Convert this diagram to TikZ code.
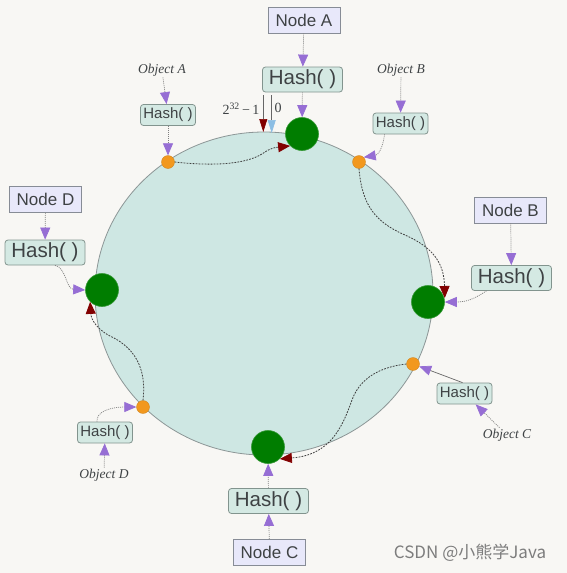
\documentclass[tikz,border=0pt]{standalone}
\usepackage{fontspec}
\setmainfont{Liberation Sans}
\newfontfamily\serifA{Liberation Serif}
\newfontfamily\cjk{Noto Sans CJK SC}
\usetikzlibrary{arrows.meta}
\definecolor{bg}{RGB}{248,247,244}
\definecolor{ringfill}{RGB}{206,231,227}
\definecolor{ringline}{RGB}{140,150,150}
\definecolor{lav}{RGB}{232,232,250}
\definecolor{hashfill}{RGB}{212,233,227}
\definecolor{boxline}{RGB}{135,140,150}
\definecolor{hashline}{RGB}{130,148,142}
\definecolor{txt}{RGB}{62,66,68}
\definecolor{pur}{RGB}{150,110,212}
\definecolor{gn}{RGB}{0,125,0}
\definecolor{gnedge}{RGB}{50,150,50}
\definecolor{org}{RGB}{242,152,30}
\definecolor{dred}{RGB}{130,0,0}
\definecolor{lblue}{RGB}{140,190,228}
\definecolor{wmgray}{RGB}{125,125,125}
\begin{document}
\begin{tikzpicture}[x=1pt,y=-1pt,
  nodebox/.style={draw=boxline,fill=lav,line width=0.8pt,minimum width=72pt,minimum height=26pt,inner sep=0pt,text=txt,font=\fontsize{17}{20}\selectfont},
  hashbig/.style={draw=hashline,fill=hashfill,rounded corners=3pt,line width=0.8pt,minimum width=80pt,minimum height=25pt,inner sep=0pt,text=txt,font=\fontsize{20.5}{24}\selectfont},
  hashsmall/.style={draw=hashline,fill=hashfill,rounded corners=3pt,line width=0.8pt,minimum width=55pt,minimum height=21pt,inner sep=0pt,text=txt,font=\fontsize{15}{18}\selectfont},
  objlbl/.style={text=txt,inner sep=1pt,font=\serifA\itshape\fontsize{13.5}{16}\selectfont},
  gnode/.style={circle,fill=gn,draw=gnedge,line width=0.6pt,minimum size=33pt,inner sep=0pt},
  odot/.style={circle,fill=org,draw=org!85!black,line width=0.3pt,minimum size=13pt,inner sep=0pt},
  parrow/.style={draw=gray,line width=0.7pt,dash pattern=on 1pt off 1pt,-{Triangle[length=12pt,width=10pt,color=pur]}},
  rarrow/.style={draw=black!75,line width=0.8pt,dash pattern=on 1.8pt off 1.2pt,-{Triangle[length=12pt,width=10pt,color=dred]}},
  wm/.style={text=wmgray,inner sep=0pt,font=\cjk\fontsize{17}{20}\selectfont}
]
\useasboundingbox (0,0) rectangle (567,573);
\fill[bg] (0,0) rectangle (567,573);
\draw[ringline,fill=ringfill,line width=0.8pt] (264,293.5) ellipse [x radius=169, y radius=161.5];

% markers 2^32-1 and 0
\coordinate (z1a) at (263.3,95);
\coordinate (z1b) at (263.3,132);
\coordinate (z2a) at (271.7,95);
\coordinate (z2b) at (271.7,133);
\draw[gray!80!black,line width=0.7pt,-{Triangle[length=13pt,width=8pt,color=dred]}] (z1a) -- (z1b);
\draw[gray!80!black,line width=0.7pt,-{Triangle[length=13pt,width=8pt,color=lblue]}] (z2a) -- (z2b);
\node[text=txt,inner sep=0pt,font=\serifA\fontsize{14}{16}\selectfont] (l1) at (241,109) {2\textsuperscript{32}\,−\,1};
\node[text=txt,inner sep=0pt,font=\serifA\fontsize{14}{16}\selectfont] (l0) at (278,108) {0};

% nodes
\node[nodebox] (nA) at (304,20) {Node A};
\node[hashbig] (hA) at (302.5,79.5) {Hash( )};
\node[gnode] (gA) at (302,134) {};
\node[objlbl] (obA) at (162,70) {Object A};
\node[hashsmall] (hsA) at (168,115) {Hash( )};
\node[odot] (oA) at (168,162) {};
\node[objlbl] (obB) at (401,70) {Object B};
\node[hashsmall] (hsB) at (400.5,123.5) {Hash( )};
\node[odot] (oB) at (359,162) {};
\node[nodebox] (nD) at (45.5,199.5) {Node D};
\node[hashbig] (hD) at (45,252.5) {Hash( )};
\node[gnode] (gD) at (102,290) {};
\node[odot] (oD) at (143,407) {};
\node[hashsmall] (hsD) at (105,432.5) {Hash( )};
\node[objlbl] (obD) at (104,475) {Object D};
\node[nodebox] (nB) at (510.5,210) {Node B};
\node[hashbig] (hB) at (511.5,278) {Hash( )};
\node[gnode] (gB) at (428,302) {};
\node[odot] (oC) at (413,364) {};
\node[hashsmall] (hsC) at (464.5,393.5) {Hash( )};
\node[objlbl] (obC) at (507,435) {Object C};
\node[gnode] (gC) at (268,447) {};
\node[hashbig] (hC) at (268.5,501) {Hash( )};
\node[nodebox] (nC) at (269.5,552.5) {Node C};
\node[wm] (wm) at (470,553) {CSDN @小熊学Java};

% purple connectors
\draw[parrow] (nA) -- (hA);
\draw[parrow] (hA) -- (gA);
\draw[parrow] (obA) -- (hsA);
\draw[parrow] (hsA) -- (oA);
\draw[parrow] (obB) -- (hsB);
\draw[parrow] ([xshift=-16pt]hsB.south) .. controls (383,148) and (378,155) .. (oB.north east);
\draw[parrow] (nD) -- (hD);
\draw[parrow] ([xshift=10pt]hD.south) .. controls (66,267) and (66,289) .. (gD.west);
\draw[parrow] (nB) -- (hB);
\draw[parrow] ([xshift=-25pt]hB.south) .. controls (478,296) and (470,302) .. (gB.east);
\draw[parrow,solid,draw=black!60] ([xshift=-2pt]hsC.north) -- (oC);
\draw[parrow] (obC) -- (hsC);
\draw[parrow] (obD) -- (hsD);
\draw[parrow] ([xshift=-8pt]hsD.north) .. controls (96,412) and (110,407) .. (oD.west);
\draw[parrow] (hC) -- (gC);
\draw[parrow] (nC) -- (hC);

% dark red connectors
\draw[rarrow] (oA.east) .. controls (220,167) and (250,163) .. (265,152) .. controls (272,147) and (280,147) .. (gA.south west);
\draw[rarrow] (oB.south) .. controls (362,205) and (375,222) .. (405,235) .. controls (432,247) and (444,262) .. ([yshift=4pt]gB.east);
\draw[rarrow] (oC.west) .. controls (380,367) and (360,378) .. (352,400) .. controls (342,428) and (330,455) .. (gC.south east);
\draw[rarrow] (oD.north) .. controls (146,375) and (140,350) .. (110,336) .. controls (95,328) and (91,318) .. (gD.south west);
\end{tikzpicture}
\end{document}
